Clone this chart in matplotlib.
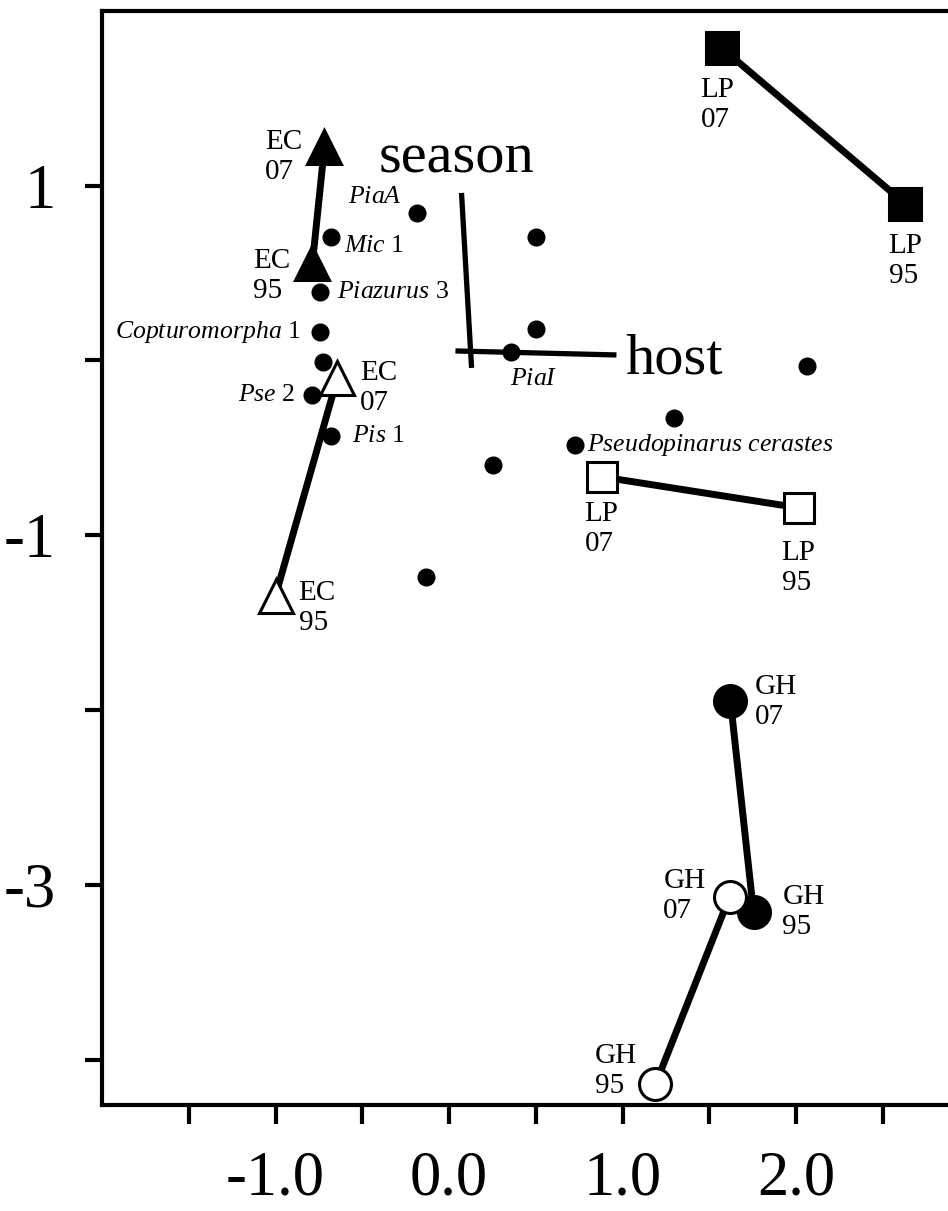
import numpy as np
import matplotlib.pyplot as plt

plt.rcParams['font.family'] = ['Liberation Serif', 'DejaVu Serif']
plt.rcParams['mathtext.fontset'] = 'custom'
plt.rcParams['mathtext.rm'] = 'Liberation Serif'
plt.rcParams['mathtext.it'] = 'Liberation Serif:italic'
plt.rcParams['axes.unicode_minus'] = False

# site scores, first value = 2007 sample, second = 1995 sample
years = ["07", "95"]
ec_solid_x = [-0.718, -0.787]
ec_solid_y = [1.221, 0.558]
ec_open_x = [-0.643, -1.000]
ec_open_y = [-0.100, -1.346]
lp_solid_x = [1.571, 2.631]
lp_solid_y = [1.788, 0.895]
lp_open_x = [0.879, 2.020]
lp_open_y = [-0.666, -0.844]
gh_solid_x = [1.622, 1.755]
gh_solid_y = [-1.946, -3.155]
gh_open_x = [1.617, 1.190]
gh_open_y = [-3.069, -4.142]

# species scores (unnamed ones have an empty label)
species_x = [-0.187, -0.683, 0.499, -0.741, -0.741, 0.499, -0.729, 0.360,
             2.066, -0.787, -0.683, 1.294, 0.729, 0.251, -0.130]
species_y = [0.844, 0.707, 0.707, 0.392, 0.163, 0.180, -0.009, 0.049,
             -0.031, -0.197, -0.432, -0.329, -0.484, -0.597, -1.238]
species_names = ["PiaA", "Mic 1", "", "Piazurus 3", "Copturomorpha 1", "", "",
                 "PiaI", "", "Pse 2", "Pis 1", "", "Pseudopinarus cerastes", "", ""]

# environmental vectors
vector_names = ["season", "host"]
vector_x0 = [0.130, 0.037]
vector_y0 = [-0.043, 0.054]
vector_x1 = [0.072, 0.965]
vector_y1 = [0.958, 0.031]

# label placement (offset points from the marker)
species_offsets = {"PiaA": (-10.8, 11.5, 'right'), "Mic 1": (10, -6.5, 'left'),
                   "Piazurus 3": (12.2, 0, 'left'), "Copturomorpha 1": (-14.4, 0, 'right'),
                   "PiaI": (15.8, -19.4, 'center'), "Pse 2": (-12.2, 0, 'right'),
                   "Pis 1": (15.8, 0, 'left'), "Pseudopinarus cerastes": (8, 0, 'left')}


def fmt_species(name):
    parts = name.rsplit(" ", 1)
    if len(parts) == 2 and parts[1].isdigit():
        return r"$\mathit{" + parts[0] + "}$ " + parts[1]
    return r"$\mathit{" + name.replace(" ", r"\ ") + "}$"


fig = plt.figure(figsize=(9.48, 12.11), dpi=100)
ax = fig.add_axes([0.1076, 0.0875, 0.9151, 0.9036])
ax.set_xlim(-2.0, 3.0)
ax.set_ylim(-4.26, 2.0)

for s in ax.spines.values():
    s.set_linewidth(3)

xt = np.arange(-1.5, 2.51, 0.5)
ax.set_xticks(xt)
ax.set_xticklabels(["%.1f" % v if v == round(v) else "" for v in xt])
yt = [1, 0, -1, -2, -3, -4]
ax.set_yticks(yt)
ax.set_yticklabels(["%d" % v if v % 2 else "" for v in yt])
ax.tick_params(axis='x', length=14, width=3, pad=19, labelsize=45)
ax.tick_params(axis='y', length=12, width=3, pad=21, labelsize=45)

# species points
ax.plot(species_x, species_y, ls='none', marker='o', ms=12, color='black', zorder=2)
for x, y, name in zip(species_x, species_y, species_names):
    if not name:
        continue
    dx, dy, ha = species_offsets[name]
    ax.annotate(fmt_species(name), (x, y), xytext=(dx, dy), textcoords='offset points',
                ha=ha, va='center', fontsize=18.5)

# vectors
for name, x0, y0, x1, y1 in zip(vector_names, vector_x0, vector_y0, vector_x1, vector_y1):
    ax.plot([x0, x1], [y0, y1], color='black', lw=3.8, solid_capstyle='butt', zorder=2)
ax.annotate("season", (vector_x1[0], vector_y1[0]), xytext=(-60, 14.4),
            textcoords='offset points', ha='left', va='baseline', fontsize=42)
ax.annotate("host", (vector_x1[1], vector_y1[1]), xytext=(6.5, -13),
            textcoords='offset points', ha='left', va='baseline', fontsize=42)

# site pairs
sites = [
    ("EC", ec_solid_x, ec_solid_y, '^', True, 24, [(-29.5, -7.2), (-29.5, -9.4)]),
    ("EC", ec_open_x, ec_open_y, '^', False, 24, [(29.5, -7.2), (30, -8.6)]),
    ("LP", lp_solid_x, lp_solid_y, 's', True, 22.5, [(-2.9, -41), (0, -41)]),
    ("LP", lp_open_x, lp_open_y, 's', False, 22, [(0, -37.4), (-0.7, -43.2)]),
    ("GH", gh_solid_x, gh_solid_y, 'o', True, 23, [(32.5, -1.4), (36, 0)]),
    ("GH", gh_open_x, gh_open_y, 'o', False, 23, [(-32.5, 0.7), (-28.5, 9.4)]),
]
for site, xs, ys, mk, filled, ms, offs in sites:
    ax.plot(xs, ys, color='black', lw=5, solid_capstyle='butt', zorder=3)
    ax.plot(xs, ys, ls='none', marker=mk, ms=ms, mfc='black' if filled else 'white',
            mec='black', mew=2.2, zorder=4)
    for x, y, yr, (dx, dy) in zip(xs, ys, years, offs):
        ax.annotate(site + "\n" + yr, (x, y), xytext=(dx, dy), textcoords='offset points',
                    ha='center', va='center', multialignment='left', fontsize=21)

fig.savefig("out.png", dpi=100)
